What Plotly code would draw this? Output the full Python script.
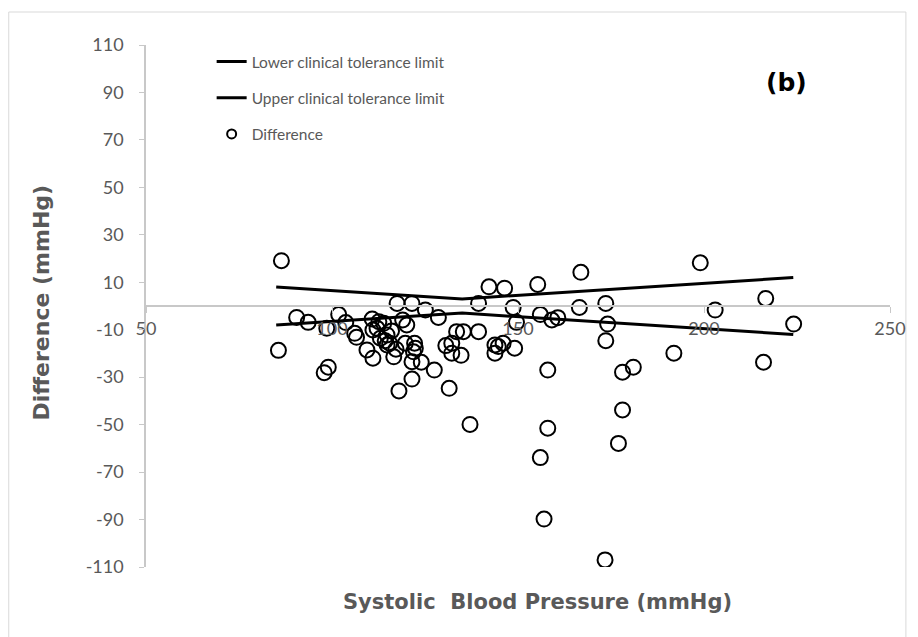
import plotly.graph_objects as go

# Scatter data: Systolic BP (x) vs Difference (y)
sbp = [86.4, 85.6, 90.5, 93.6, 98.6, 99.0, 97.9, 101.8, 103.7, 106.1, 106.6,
       117.5, 121.5, 110.8, 111.0, 112.6, 113.9, 113.0, 114.8, 116.0, 114.3,
       115.5, 117.2, 116.6, 109.4, 111.0, 119.0, 120.1, 119.7, 122.2, 122.4,
       121.9, 121.5, 124.0, 121.5, 118.0, 125.1, 127.5, 128.6,
       130.6, 132.2, 132.2, 134.7, 133.5, 135.3, 139.4, 131.5, 137.1, 139.4,
       142.2, 146.4, 148.7, 149.6, 143.8, 144.7, 146.0, 143.8, 149.1,
       155.3, 156.0, 159.1, 160.7, 158.0, 158.0, 156.0, 157.0,
       166.9, 166.5, 173.6, 174.1, 173.6, 173.4, 177.0, 178.1, 181.0, 178.1,
       191.9, 199.0, 203.0, 216.6, 224.1, 216.0, 114.8, 112.1]
diff = [19.1, -18.7, -4.8, -6.9, -9.4, -25.8, -28.1, -3.6, -7.0, -11.5, -13.2,
        1.1, 1.1, -5.5, -10.1, -6.6, -7.3, -13.6, -12.2, -10.5, -14.6,
        -15.7, -18.2, -21.4, -18.5, -22.0, -5.9, -8.0, -15.7, -15.7, -17.8,
        -19.3, -23.5, -23.7, -30.8, -35.8, -1.7, -27.0, -4.8,
        -16.7, -15.7, -19.9, -20.8, -10.8, -10.8, -10.8, -34.7, -49.9, 1.1,
        8.1, 7.5, -0.6, -6.9, -16.4, -17.1, -15.7, -19.9, -17.8,
        9.1, -3.6, -5.9, -4.9, -27.0, -51.5, -63.9, -89.8,
        14.2, -0.6, 1.1, -7.6, -14.6, -107.0, -57.9, -27.9, -25.8, -43.8,
        -19.9, 18.2, -1.7, 3.2, -7.6, -23.7, -16.4, -9.4]

# Clinical tolerance limits
limit_x = [85, 135, 224]
lower_limit = [-8, -3, -12]
upper_limit = [8, 3, 12]

x_ticks = [50, 100, 150, 200, 250]
y_ticks = list(range(-110, 111, 20))
y_tick_labels = [str(v) for v in y_ticks]

FONT = "Lato"
TITLE_FONT = "DejaVu Sans"
GRAY = "#595959"
AXIS = "#c8c8c8"

fig = go.Figure()
fig.add_trace(go.Scatter(x=limit_x, y=lower_limit, mode="lines",
                         name="Lower clinical tolerance limit", legendgroup="a",
                         line=dict(color="black", width=3)))
fig.add_trace(go.Scatter(x=limit_x, y=upper_limit, mode="lines",
                         name="Upper clinical tolerance limit", legendgroup="b",
                         line=dict(color="black", width=3)))
fig.add_trace(go.Scatter(x=sbp, y=diff, mode="markers", name="Difference",
                         showlegend=False,
                         marker=dict(symbol="circle-open", size=15, color="black",
                                     line=dict(width=2, color="black"))))
# legend entry for the scatter (smaller symbol, as in the reference legend)
fig.add_trace(go.Scatter(x=[None], y=[None], mode="markers", name="Difference",
                         legendgroup="c",
                         marker=dict(symbol="circle-open", size=9, color="black",
                                     line=dict(width=2, color="black"))))

fig.update_layout(
    width=918, height=637,
    margin=dict(l=146, r=24, t=45, b=70),
    paper_bgcolor="white", plot_bgcolor="white",
    font=dict(family=FONT, color=GRAY, size=18),
    showlegend=True,
    legend=dict(x=(212 - 146) / 748, y=1.0, xanchor="left", yanchor="top",
                font=dict(family=FONT, size=15.5, color=GRAY),
                bgcolor="rgba(0,0,0,0)", tracegroupgap=13, itemsizing="trace"),
    xaxis=dict(range=[50, 250], tickvals=x_ticks, showgrid=False, zeroline=False,
               showline=True, linecolor=AXIS, linewidth=2,
               ticks="outside", ticklen=6, tickcolor=AXIS,
               anchor="free", position=0.5,
               tickfont=dict(family=FONT, size=18, color=GRAY)),
    yaxis=dict(range=[-110, 110], tickvals=y_ticks, ticktext=y_tick_labels,
               showgrid=False, zeroline=False,
               showline=True, linecolor=AXIS, linewidth=1.5,
               ticks="outside", ticklen=5, tickcolor=AXIS, ticklabelstandoff=12,
               tickfont=dict(family=FONT, size=18, color=GRAY)),
    shapes=[dict(type="rect", xref="paper", yref="paper",
                 x0=(8 - 146) / 748, x1=(910 - 146) / 748,
                 y0=(567 - 645) / 522, y1=(567 - 12) / 522,
                 line=dict(color="#d9d9d9", width=1), layer="below")],
    annotations=[
        dict(text="<b>Systolic  Blood Pressure (mmHg)</b>", xref="paper", yref="paper",
             x=(540 - 146) / 748, y=(567 - 602) / 522, xanchor="center", yanchor="middle",
             showarrow=False, font=dict(family=TITLE_FONT, size=21, color=GRAY)),
        dict(text="<b>Difference (mmHg)</b>", xref="paper", yref="paper",
             x=(40 - 146) / 748, y=(567 - 303) / 522, xanchor="center", yanchor="middle",
             textangle=-90, showarrow=False,
             font=dict(family=TITLE_FONT, size=22, color=GRAY)),
        dict(text="<b>(b)</b>", xref="paper", yref="paper",
             x=(790 - 146) / 748, y=(567 - 82) / 522, xanchor="center", yanchor="middle",
             showarrow=False, font=dict(family=TITLE_FONT, size=25, color="black")),
    ],
)

fig.write_html("out.html")
